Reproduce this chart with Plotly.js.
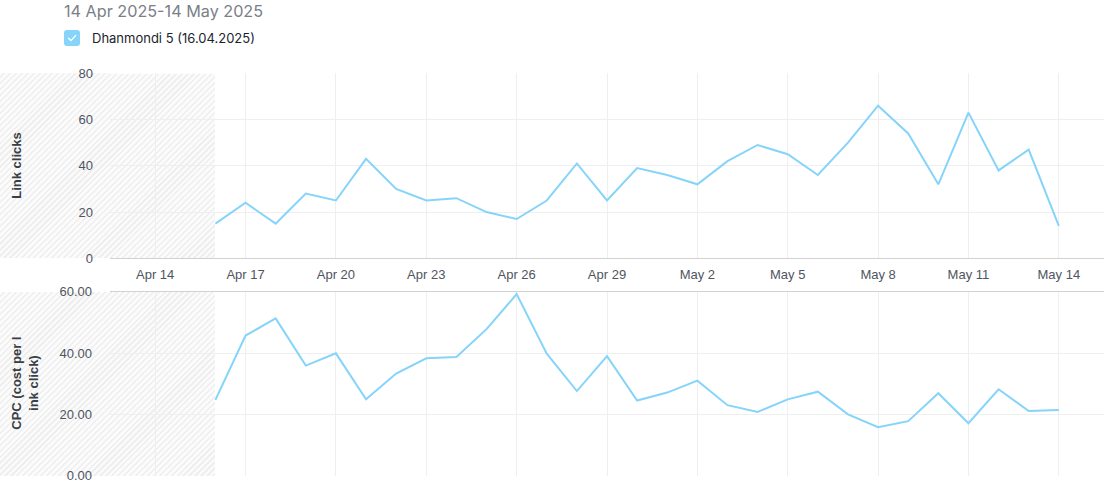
<!DOCTYPE html>
<html>
<head>
<meta charset="utf-8">
<script src="https://cdn.plot.ly/plotly-3.0.1.min.js"></script>
<style>
  html, body { margin: 0; padding: 0; background: #ffffff; }
  #wrap { position: relative; width: 1114px; height: 486px; overflow: hidden; }
  .hatch {
    position: absolute; left: 0; width: 215px;
    background-color: #fbfbfb;
    background-image: repeating-linear-gradient(135deg, #fbfbfb 0px, #fbfbfb 2.6px, #efefef 2.6px, #efefef 4.2px);
  }
  #hatchTop { top: 73px; height: 185px; }
  #hatchBot { top: 292px; height: 184px; }
  #chart { position: absolute; left: 0; top: 0; width: 1114px; height: 486px; }
  #title { position: absolute; left: 64px; top: 1px; font-family: Inter, "Noto Sans", sans-serif; font-size: 16.2px; color: #7b8088; white-space: nowrap; }
  #legend { position: absolute; left: 64px; top: 30px; height: 16px; display: flex; align-items: center; white-space: nowrap; }
  #box { width: 16px; height: 16px; border-radius: 3px; background: #86d4fa; display: flex; align-items: center; justify-content: center; }
  #legtext { margin-left: 12px; font-family: Inter, "Noto Sans", sans-serif; font-size: 13px; color: #1c2430; }
  #probe { position: absolute; left: -9999px; top: 0; font-size: 13px; }
</style>
</head>
<body>
<div id="wrap">
  <div class="hatch" id="hatchTop"></div>
  <div class="hatch" id="hatchBot"></div>
  <div id="chart"></div>
  <div id="title"></div>
  <div id="legend"><div id="box"><svg width="12" height="12" viewBox="0 0 12 12"><path d="M2.5 6.2 L5 8.6 L9.6 3.6" fill="none" stroke="#ffffff" stroke-width="1.4" stroke-linecap="round" stroke-linejoin="round"/></svg></div><span id="legtext"></span></div>
</div>
<script>
const headerTitle = "14 Apr 2025-14 May 2025";
const seriesName = "Dhanmondi 5 (16.04.2025)";
const yTitleTop = "Link clicks";
const yTitleBottom = "CPC (cost per l<br>ink click)";

const dates = [
  "2025-04-16","2025-04-17","2025-04-18","2025-04-19","2025-04-20","2025-04-21","2025-04-22",
  "2025-04-23","2025-04-24","2025-04-25","2025-04-26","2025-04-27","2025-04-28","2025-04-29",
  "2025-04-30","2025-05-01","2025-05-02","2025-05-03","2025-05-04","2025-05-05","2025-05-06",
  "2025-05-07","2025-05-08","2025-05-09","2025-05-10","2025-05-11","2025-05-12","2025-05-13",
  "2025-05-14"
];
const linkClicks = [15,24,15,28,25,43,30,25,26,20,17,25,41,25,39,36,32,42,49,45,36,50,66,54,32,63,38,47,14];
const cpc = [24.7,45.7,51.3,35.9,39.9,24.9,33.3,38.3,38.7,47.8,59.2,39.8,27.6,39.0,24.5,
             27.1,31.0,23.0,20.8,24.9,27.4,20.0,15.8,17.8,26.9,17.1,28.2,21.1,21.4];
const xRange = ["2025-04-12 12:00", "2025-05-15 12:00"];
const xTick0 = "2025-04-14";
const clicksTicks = [0, 20, 40, 60, 80];
const cpcTicks = [0, 20, 40, 60];
const currency = "\u09F3";

document.getElementById("title").textContent = headerTitle;
document.getElementById("legtext").textContent = seriesName;

const W = 1114, H = 486;
const lineColor = "#86d4fa";
const fontStack = "'Liberation Sans', Arial, 'Noto Sans Bengali', 'Lohit Bengali', 'FreeSans', 'Noto Sans', 'DejaVu Sans', sans-serif";
const tickFont = {family: fontStack, size: 13, color: "#4f5560"};
const gridC = "#efefef";
const xDom = [110 / W, 1104 / W];
const yDomTop = [1 - 258.3 / H, 1 - 73.3 / H];
const yDomBot = [1 - 475.7 / H, 1 - 291.7 / H];

const traces = [
  {x: dates, y: linkClicks, type: "scatter", mode: "lines", xaxis: "x", yaxis: "y",
   line: {color: lineColor, width: 2}, name: seriesName, hoverinfo: "skip"},
  {x: dates, y: cpc, type: "scatter", mode: "lines", xaxis: "x2", yaxis: "y2",
   line: {color: lineColor, width: 2}, name: seriesName, hoverinfo: "skip"}
];

const layout = {
  width: W, height: H,
  margin: {l: 0, r: 0, t: 0, b: 0},
  paper_bgcolor: "rgba(0,0,0,0)", plot_bgcolor: "rgba(0,0,0,0)",
  showlegend: false,
  xaxis: {domain: xDom, anchor: "y", type: "date", range: xRange, tick0: xTick0, dtick: 3 * 86400000,
          tickformat: "%b %-d", showgrid: true, gridcolor: gridC, showline: true, linecolor: "#d2d2d2",
          linewidth: 1, ticks: "", tickfont: tickFont, zeroline: false, ticklabelstandoff: 4},
  yaxis: {domain: yDomTop, anchor: "x", range: [0, 80], tickvals: clicksTicks, showgrid: true, gridcolor: gridC,
          zeroline: false, showline: false, ticks: "", tickfont: tickFont, ticklabelstandoff: 16},
  xaxis2: {domain: xDom, anchor: "y2", matches: "x", type: "date", range: xRange, tick0: xTick0, dtick: 3 * 86400000,
           showticklabels: false, showgrid: true, gridcolor: gridC, showline: true, side: "top",
           linecolor: "#d2d2d2", linewidth: 1, ticks: "", zeroline: false},
  yaxis2: {domain: yDomBot, anchor: "x2", range: [0, 60], tickvals: cpcTicks, tickprefix: currency, tickformat: ".2f",
           showgrid: true, gridcolor: gridC, zeroline: false, showline: false, ticks: "", tickfont: tickFont,
           ticklabelstandoff: 17},
  shapes: [
    {type: "line", xref: "paper", yref: "y", x0: xDom[0], x1: xDom[1], y0: 80, y1: 80,
     line: {color: "#ffffff", width: 1.5}, layer: "between"}
  ],
  annotations: [
    {text: yTitleTop, xref: "paper", yref: "paper", x: 17 / W, y: (yDomTop[0] + yDomTop[1]) / 2,
     textangle: -90, showarrow: false, xanchor: "center", yanchor: "middle",
     font: {family: "'Liberation Sans', Arial, sans-serif", size: 13, color: "#3a3f47", weight: "bold"}},
    {text: yTitleBottom, xref: "paper", yref: "paper", x: 25 / W, y: (yDomBot[0] + yDomBot[1]) / 2,
     textangle: -90, showarrow: false, xanchor: "center", yanchor: "middle",
     font: {family: "'Liberation Sans', Arial, sans-serif", size: 13, color: "#3a3f47", weight: "bold"}}
  ]
};

Plotly.newPlot("chart", traces, layout, {staticPlot: true, displayModeBar: false});
</script>
</body>
</html>
